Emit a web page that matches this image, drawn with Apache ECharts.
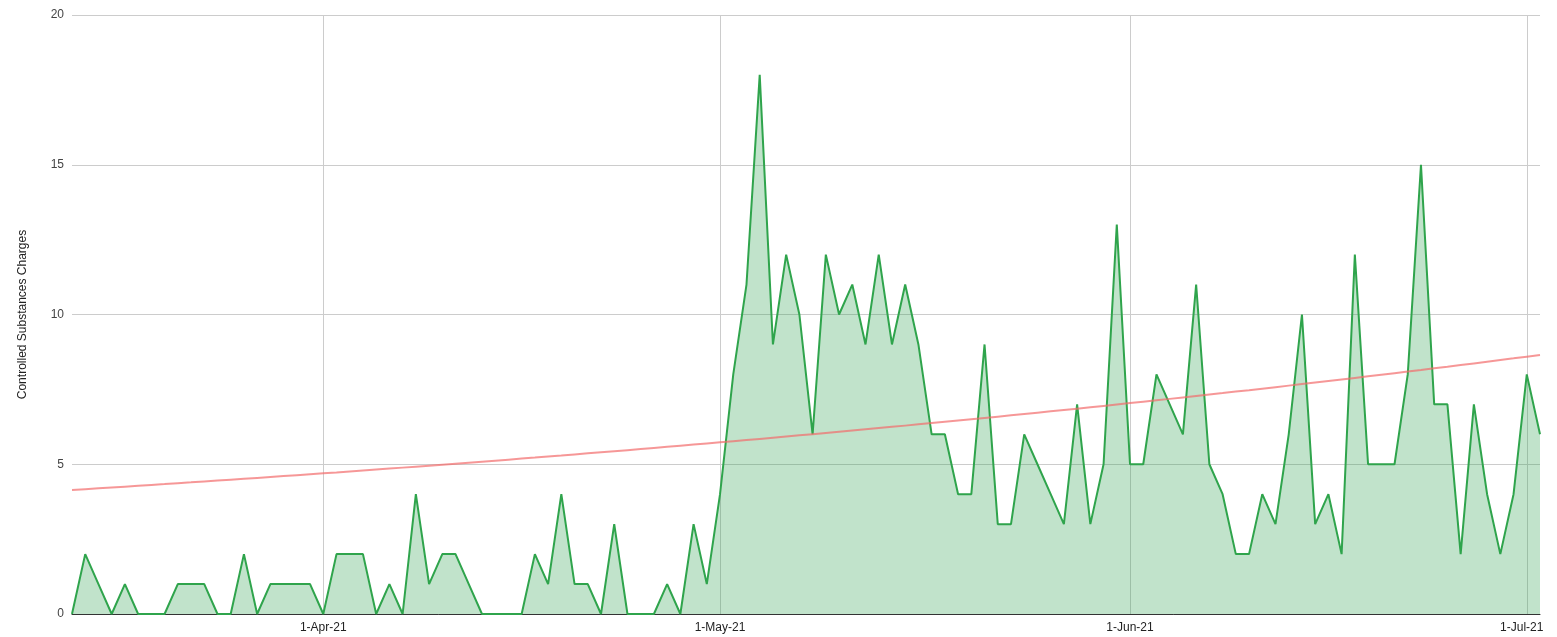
<!DOCTYPE html>
<html>
<head>
<meta charset="utf-8">
<script src="https://cdn.jsdelivr.net/npm/echarts@6/dist/echarts.min.js"></script>
<style>
html,body{margin:0;padding:0;background:#fff;}
#chart{width:1557px;height:637px;}
</style>
</head>
<body>
<div id="chart"></div>
<script>
// Daily values starting 13-Mar-21
const startYear = 2021, startMonth = 2, startDay = 13; // 13 March 2021
const charges = [
  0, 2, 1, 0, 1, 0, 0, 0, 1, 1,
  1, 0, 0, 2, 0, 1, 1, 1, 1, 0,
  2, 2, 2, 0, 1, 0, 4, 1, 2, 2,
  1, 0, 0, 0, 0, 2, 1, 4, 1, 1,
  0, 3, 0, 0, 0, 1, 0, 3, 1, 4,
  8, 11, 18, 9, 12, 10, 6, 12, 10, 11,
  9, 12, 9, 11, 9, 6, 6, 4, 4, 9,
  3, 3, 6, 5, 4, 3, 7, 3, 5, 13,
  5, 5, 8, 7, 6, 11, 5, 4, 2, 2,
  4, 3, 6, 10, 3, 4, 2, 12, 5, 5,
  5, 8, 15, 7, 7, 2, 7, 4, 2, 4,
  8, 6
];
const monthNames = ['Jan','Feb','Mar','Apr','May','Jun','Jul','Aug','Sep','Oct','Nov','Dec'];
// Exponential trendline end values
const trendStart = 4.14;
const trendEnd = 8.65;
const yTicks = [0, 5, 10, 15, 20];

const dates = charges.map((_, i) => new Date(Date.UTC(startYear, startMonth, startDay + i)));
const categories = dates.map(d => d.getUTCDate() + '-' + monthNames[d.getUTCMonth()] + '-' + String(d.getUTCFullYear()).slice(2));
const n = charges.length;
const trend = charges.map((_, i) => +(trendStart * Math.pow(trendEnd / trendStart, i / (n - 1))).toFixed(4));
const isMonthStart = (idx) => dates[idx].getUTCDate() === 1;
const lastLabelIdx = dates.reduce((acc, d, i) => (d.getUTCDate() === 1 ? i : acc), -1);

const chart = echarts.init(document.getElementById('chart'), null, {renderer: 'canvas'});
chart.setOption({
  animation: false,
  backgroundColor: '#ffffff',
  textStyle: {fontFamily: '"Liberation Sans", Arial, sans-serif'},
  grid: {left: 72, right: 17, top: 15, bottom: 23, containLabel: false},
  xAxis: {
    type: 'category',
    data: categories,
    boundaryGap: false,
    axisLine: {show: true, lineStyle: {color: '#333', width: 1}},
    axisTick: {show: false},
    axisLabel: {
      interval: (idx) => isMonthStart(idx),
      formatter: (val, idx) => idx === lastLabelIdx ? '{last|' + val + '}' : val,
      rich: {last: {color: '#222', fontSize: 12, padding: [0, 10, 0, 0], fontFamily: '"Liberation Sans", Arial, sans-serif'}},
      color: '#222',
      fontSize: 12,
      margin: 8,
      fontFamily: '"Liberation Sans", Arial, sans-serif'
    },
    splitLine: {show: true, interval: (idx) => isMonthStart(idx), lineStyle: {color: '#cccccc', width: 1}}
  },
  yAxis: {
    type: 'value',
    min: yTicks[0],
    max: yTicks[yTicks.length - 1],
    interval: 5,
    name: 'Controlled Substances Charges',
    nameLocation: 'middle',
    nameRotate: 90,
    nameGap: 43,
    nameTextStyle: {color: '#222', fontSize: 12, fontFamily: '"Liberation Sans", Arial, sans-serif'},
    axisLine: {show: false},
    axisTick: {show: false},
    axisLabel: {color: '#444', fontSize: 12, margin: 8, fontFamily: '"Liberation Sans", Arial, sans-serif'},
    splitLine: {show: true, lineStyle: {color: '#cccccc', width: 1}}
  },
  series: [
    {
      type: 'line',
      data: charges,
      symbol: 'none',
      lineStyle: {color: '#2fa44c', width: 2},
      itemStyle: {color: '#2fa44c'},
      areaStyle: {color: '#31a354', opacity: 0.3},
      z: 2
    },
    {
      type: 'line',
      data: trend,
      symbol: 'none',
      smooth: false,
      lineStyle: {color: '#f26b6b', width: 2, opacity: 0.7},
      z: 3
    }
  ]
});
</script>
</body>
</html>
